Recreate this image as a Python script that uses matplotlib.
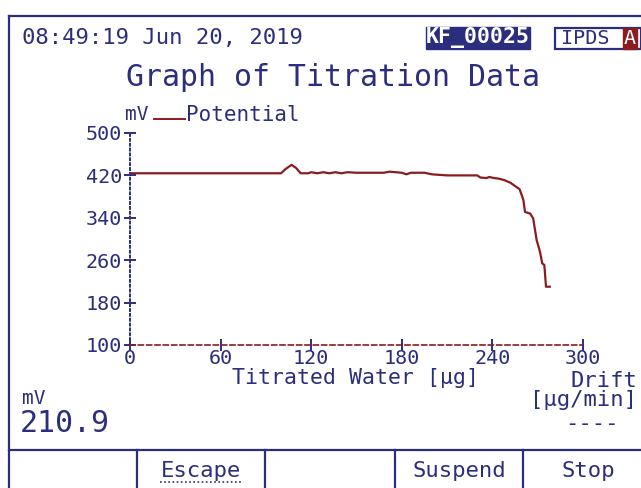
import matplotlib
matplotlib.use('Agg')
import matplotlib.pyplot as plt
from matplotlib.lines import Line2D
from matplotlib.patches import Rectangle

# Data
water_ug = [0, 60, 100, 103, 107, 110, 113, 118, 120, 124, 128, 132, 136, 140, 144,
            150, 160, 168, 172, 180, 183, 186, 195, 200, 210, 230, 232, 236, 238,
            241, 244, 248, 252, 256, 258, 260.5, 261.6, 265, 267, 269.3, 271.5,
            273, 274.4, 275.5, 278]
potential_mv = [424, 424, 424, 432, 440, 434, 424, 424, 426, 424, 426, 424, 426, 424, 426,
                425, 425, 425, 427, 425, 422, 425, 425, 422, 420, 420, 416, 415, 417,
                415, 414, 411, 406, 398, 394, 374, 351, 348, 339, 298, 276,
                254, 251, 210, 210]

x_ticks = [0, 60, 120, 180, 240, 300]
y_ticks = [100, 180, 260, 340, 420, 500]

timestamp = '08:49:19 Jun 20, 2019'
sample_id = 'KF_00025'
live_value = '210.9'
buttons = ['', 'Escape', '', 'Suspend', 'Stop']

navy = '#2b2e7c'
red = '#8a1c1f'
mono = 'DejaVu Sans Mono'

W, H = 641, 488
fig = plt.figure(figsize=(W / 100, H / 100), dpi=100)


def fx(px):
    return px / W


def fy(py):
    return 1 - py / H


# screen frame
fig.add_artist(Line2D([fx(9), 1], [fy(16), fy(16)], color=navy, lw=1.6))
fig.add_artist(Line2D([fx(9), fx(9)], [fy(16), 0], color=navy, lw=1.6))
fig.add_artist(Line2D([fx(9), 1], [fy(450), fy(450)], color=navy, lw=1.6))
for sx in [137, 265, 395, 523]:
    fig.add_artist(Line2D([fx(sx), fx(sx)], [fy(450), 0], color=navy, lw=1.6))

# header
fig.text(fx(22), fy(38), timestamp, family=mono, fontsize=16, color=navy,
         ha='left', va='center')
fig.text(fx(478), fy(38), sample_id, family=mono, fontsize=15.5, color='white',
         ha='center', va='center', fontweight='bold',
         bbox=dict(boxstyle='square,pad=0.02', fc=navy, ec=navy))
fig.add_artist(Rectangle((fx(555), fy(49)), fx(641) - fx(555), fy(28) - fy(49),
                         fill=False, ec=navy, lw=1.6))
fig.text(fx(561), fy(38.5), 'IPDS', family=mono, fontsize=14.5, color=navy,
         ha='left', va='center')
fig.text(fx(630), fy(38.5), 'A', family=mono, fontsize=14.5, color='white',
         ha='center', va='center',
         bbox=dict(boxstyle='square,pad=0.05', fc=red, ec=red))

fig.text(fx(333), fy(78), 'Graph of Titration Data', family=mono, fontsize=21.5,
         color=navy, ha='center', va='center')

# legend
fig.text(fx(125), fy(115), 'mV', family=mono, fontsize=14, color=navy,
         ha='left', va='center')
fig.add_artist(Line2D([fx(154), fx(185)], [fy(119), fy(119)], color=red, lw=1.4))
fig.text(fx(186), fy(115), 'Potential', family=mono, fontsize=15, color=navy,
         ha='left', va='center')

# plot area
ax = fig.add_axes([fx(130), fy(345), fx(583) - fx(130), fy(133) - fy(345)])
ax.plot(water_ug, potential_mv, color=red, lw=1.6)
ax.set_xlim(0, 300)
ax.set_ylim(100, 500)
ax.set_xticks(x_ticks)
ax.set_yticks(y_ticks)
ax.spines['top'].set_visible(False)
ax.spines['right'].set_visible(False)
ax.spines['left'].set_color(navy)
ax.spines['left'].set_linestyle((0, (1, 1.5)))
ax.spines['left'].set_linewidth(1.4)
ax.spines['bottom'].set_color(red)
ax.spines['bottom'].set_linestyle((0, (3, 2)))
ax.spines['bottom'].set_linewidth(1.2)
ax.tick_params(axis='both', direction='inout', length=9, width=1.4, color=navy,
               labelcolor=navy, labelsize=14.5)
ax.tick_params(axis='x', pad=-1.5)
ax.tick_params(axis='y', pad=1)
for lab in ax.get_xticklabels() + ax.get_yticklabels():
    lab.set_family(mono)
ax.patch.set_alpha(0)

fig.text(fx(356), fy(378), 'Titrated Water [µg]', family=mono, fontsize=15.5,
         color=navy, ha='center', va='center')

# readouts
fig.text(fx(571), fy(381), 'Drift', family=mono, fontsize=16, color=navy,
         ha='left', va='center')
fig.text(fx(530), fy(400), '[µg/min]', family=mono, fontsize=16, color=navy,
         ha='left', va='center')
fig.text(fx(565), fy(424), '----', family=mono, fontsize=16, color=navy,
         ha='left', va='center')
fig.text(fx(22), fy(399), 'mV', family=mono, fontsize=14, color=navy,
         ha='left', va='center')
fig.text(fx(20), fy(423), live_value, family=mono, fontsize=21.5, color=navy,
         ha='left', va='center')

# soft keys
centers = [73, 201, 330, 459, 588]
for cx, name in zip(centers, buttons):
    if name:
        fig.text(fx(cx), fy(471), name, family=mono, fontsize=16, color=navy,
                 ha='center', va='center')
fig.add_artist(Line2D([fx(160), fx(243)], [fy(482), fy(482)], color=navy, lw=1.2,
                      linestyle=(0, (1, 1.5))))

fig.savefig('out.png', dpi=100)
